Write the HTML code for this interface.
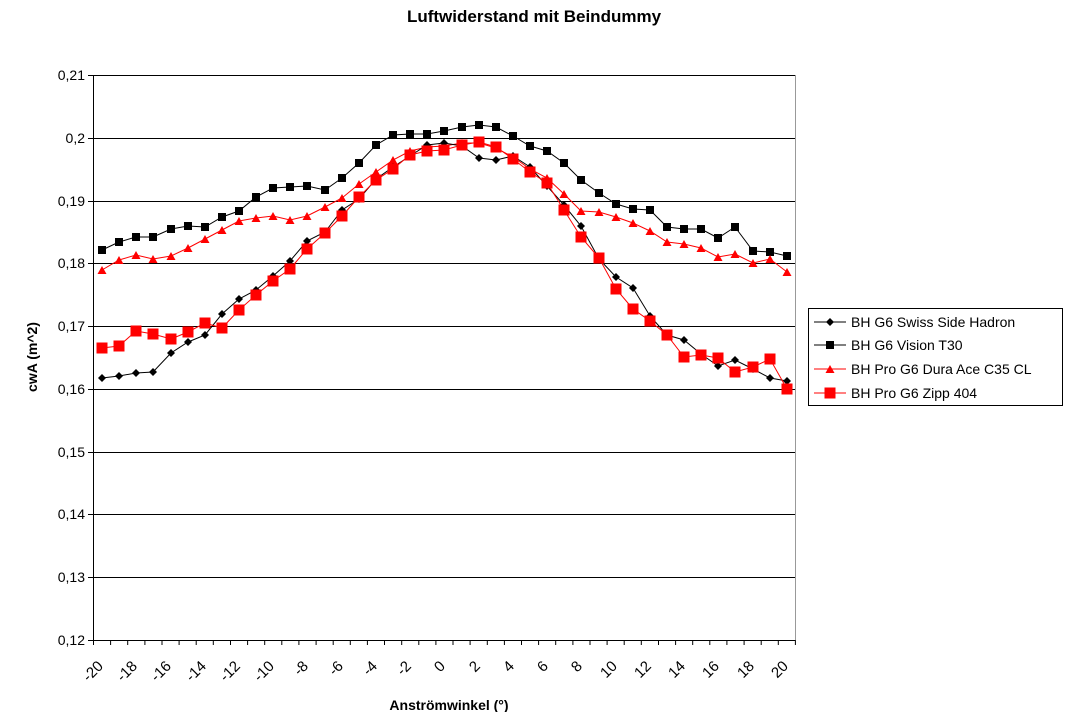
<!DOCTYPE html>
<html><head><meta charset="utf-8"><style>
body{margin:0;background:#fff}
svg{display:block;font-family:"Liberation Sans",Arial,sans-serif}
</style></head><body>
<svg width="1068" height="712" viewBox="0 0 1068 712">
<defs>
<marker id="dia" markerUnits="userSpaceOnUse" markerWidth="10" markerHeight="10" refX="5" refY="5"><path d="M5 1 L9 5 L5 9 L1 5Z" fill="#000"/></marker>
<marker id="sqk" markerUnits="userSpaceOnUse" markerWidth="10" markerHeight="10" refX="5" refY="5"><rect x="1" y="1" width="8" height="8" fill="#000"/></marker>
<marker id="tri" markerUnits="userSpaceOnUse" markerWidth="10" markerHeight="10" refX="5" refY="5"><path d="M5 1 L9.5 9 L0.5 9Z" fill="#f00"/></marker>
<marker id="sqr" markerUnits="userSpaceOnUse" markerWidth="12" markerHeight="12" refX="6" refY="6"><rect x="0.5" y="0.5" width="11" height="11" fill="#f00"/></marker>
</defs>
<text x="534" y="22" text-anchor="middle" font-size="17" font-weight="bold">Luftwiderstand mit Beindummy</text>
<g stroke="#000" stroke-width="1">
<line x1="93" y1="75.5" x2="795" y2="75.5"/>
<line x1="93" y1="138.5" x2="795" y2="138.5"/>
<line x1="93" y1="201.5" x2="795" y2="201.5"/>
<line x1="93" y1="263.5" x2="795" y2="263.5"/>
<line x1="93" y1="326.5" x2="795" y2="326.5"/>
<line x1="93" y1="389.5" x2="795" y2="389.5"/>
<line x1="93" y1="452.5" x2="795" y2="452.5"/>
<line x1="93" y1="514.5" x2="795" y2="514.5"/>
<line x1="93" y1="577.5" x2="795" y2="577.5"/>
<line x1="93" y1="640.5" x2="795" y2="640.5"/>
<line x1="93.5" y1="75" x2="93.5" y2="640"/>
</g>
<line x1="795.5" y1="75" x2="795.5" y2="640" stroke="#999"/>
<g stroke="#000">
<line x1="88" y1="75.5" x2="93" y2="75.5"/><line x1="88" y1="138.5" x2="93" y2="138.5"/><line x1="88" y1="201.5" x2="93" y2="201.5"/><line x1="88" y1="263.5" x2="93" y2="263.5"/><line x1="88" y1="326.5" x2="93" y2="326.5"/><line x1="88" y1="389.5" x2="93" y2="389.5"/><line x1="88" y1="452.5" x2="93" y2="452.5"/><line x1="88" y1="514.5" x2="93" y2="514.5"/><line x1="88" y1="577.5" x2="93" y2="577.5"/><line x1="88" y1="640.5" x2="93" y2="640.5"/>
</g>
<path stroke="#000" d="M93.5 640v5M110.6 640v5M127.7 640v5M144.9 640v5M162 640v5M179.1 640v5M196.2 640v5M213.3 640v5M230.5 640v5M247.6 640v5M264.7 640v5M281.8 640v5M298.9 640v5M316.1 640v5M333.2 640v5M350.3 640v5M367.4 640v5M384.5 640v5M401.7 640v5M418.8 640v5M435.9 640v5M453 640v5M470.1 640v5M487.3 640v5M504.4 640v5M521.5 640v5M538.6 640v5M555.7 640v5M572.9 640v5M590 640v5M607.1 640v5M624.2 640v5M641.3 640v5M658.5 640v5M675.6 640v5M692.7 640v5M709.8 640v5M726.9 640v5M744.1 640v5M761.2 640v5M778.3 640v5M795.4 640v5"/>
<g font-size="14" text-anchor="end">
<text x="85" y="80">0,21</text><text x="85" y="143">0,2</text><text x="85" y="206">0,19</text><text x="85" y="268">0,18</text><text x="85" y="331">0,17</text><text x="85" y="394">0,16</text><text x="85" y="457">0,15</text><text x="85" y="519">0,14</text><text x="85" y="582">0,13</text><text x="85" y="645">0,12</text>
</g>
<g font-size="15" text-anchor="end">
<text transform="translate(104,667) rotate(-45)">-20</text>
<text transform="translate(138,667) rotate(-45)">-18</text>
<text transform="translate(172,667) rotate(-45)">-16</text>
<text transform="translate(207,667) rotate(-45)">-14</text>
<text transform="translate(241,667) rotate(-45)">-12</text>
<text transform="translate(275,667) rotate(-45)">-10</text>
<text transform="translate(309,667) rotate(-45)">-8</text>
<text transform="translate(344,667) rotate(-45)">-6</text>
<text transform="translate(378,667) rotate(-45)">-4</text>
<text transform="translate(412,667) rotate(-45)">-2</text>
<text transform="translate(446,667) rotate(-45)">0</text>
<text transform="translate(481,667) rotate(-45)">2</text>
<text transform="translate(515,667) rotate(-45)">4</text>
<text transform="translate(549,667) rotate(-45)">6</text>
<text transform="translate(583,667) rotate(-45)">8</text>
<text transform="translate(618,667) rotate(-45)">10</text>
<text transform="translate(652,667) rotate(-45)">12</text>
<text transform="translate(686,667) rotate(-45)">14</text>
<text transform="translate(720,667) rotate(-45)">16</text>
<text transform="translate(755,667) rotate(-45)">18</text>
<text transform="translate(789,667) rotate(-45)">20</text>
</g>
<text x="449" y="710" text-anchor="middle" font-size="14" font-weight="bold">Anströmwinkel (°)</text>
<text transform="translate(37,357) rotate(-90)" text-anchor="middle" font-size="14" font-weight="bold">cwA (m^2)</text>

<polyline fill="none" stroke="#000" stroke-width="1" marker-start="url(#sqk)" marker-mid="url(#sqk)" marker-end="url(#sqk)" points="102,250 119,242 136,237 153,237 171,229 188,226 205,227 222,217 239,211 256,197 273,188 290,187 307,186 325,190 342,178 359,163 376,145 393,135 410,134 427,134 444,131 462,127 479,125 496,127 513,136 530,146 547,151 564,163 581,180 599,193 616,204 633,209 650,210 667,227 684,229 701,229 718,238 735,227 753,251 770,252 787,256"/>
<polyline fill="none" stroke="#f00" stroke-width="1" marker-start="url(#tri)" marker-mid="url(#tri)" marker-end="url(#tri)" points="102,270 119,260 136,255 153,259 171,256 188,248 205,239 222,230 239,221 256,218 273,216 290,220 307,216 325,207 342,198 359,184 376,172 393,160 410,151 427,147 444,146 462,143 479,143 496,148 513,157 530,169 547,178 564,194 581,211 599,212 616,217 633,223 650,231 667,242 684,244 701,248 718,257 735,254 753,263 770,259 787,272"/>
<polyline fill="none" stroke="#000" stroke-width="1" marker-start="url(#dia)" marker-mid="url(#dia)" marker-end="url(#dia)" points="102,378 119,376 136,373 153,372 171,353 188,342 205,335 222,314 239,299 256,290 273,276 290,261 307,241 325,232 342,210 359,199 376,179 393,167 410,156 427,145 444,143 462,146 479,158 496,160 513,156 530,167 547,186 564,205 581,226 599,259 616,277 633,288 650,316 667,335 684,340 701,354 718,366 735,360 753,369 770,378 787,381"/>
<polyline fill="none" stroke="#f00" stroke-width="1" marker-start="url(#sqr)" marker-mid="url(#sqr)" marker-end="url(#sqr)" points="102,348 119,346 136,331 153,334 171,339 188,332 205,323 222,328 239,310 256,295 273,281 290,269 307,249 325,233 342,216 359,197 376,180 393,169 410,155 427,151 444,150 462,145 479,142 496,147 513,159 530,172 547,183 564,210 581,237 599,258 616,289 633,309 650,321 667,335 684,357 701,355 718,358 735,372 753,367 770,359 787,389"/>

<rect x="808.5" y="308.5" width="254" height="97" fill="#fff" stroke="#000"/>
<g font-size="14">
<line x1="814" y1="322" x2="846" y2="322" stroke="#000"/><line x1="814" y1="322" x2="830" y2="322" stroke="#000" marker-end="url(#dia)"/>
<text x="851" y="327">BH G6 Swiss Side Hadron</text>
<line x1="814" y1="345" x2="846" y2="345" stroke="#000"/><line x1="814" y1="345" x2="830" y2="345" stroke="#000" marker-end="url(#sqk)"/>
<text x="851" y="350">BH G6 Vision T30</text>
<line x1="814" y1="369" x2="846" y2="369" stroke="#f00"/><line x1="814" y1="369" x2="830" y2="369" stroke="#f00" marker-end="url(#tri)"/>
<text x="851" y="374">BH Pro G6 Dura Ace C35 CL</text>
<line x1="814" y1="393" x2="846" y2="393" stroke="#f00"/><line x1="814" y1="393" x2="830" y2="393" stroke="#f00" marker-end="url(#sqr)"/>
<text x="851" y="398">BH Pro G6 Zipp 404</text>
</g>
</svg>
</body></html>
